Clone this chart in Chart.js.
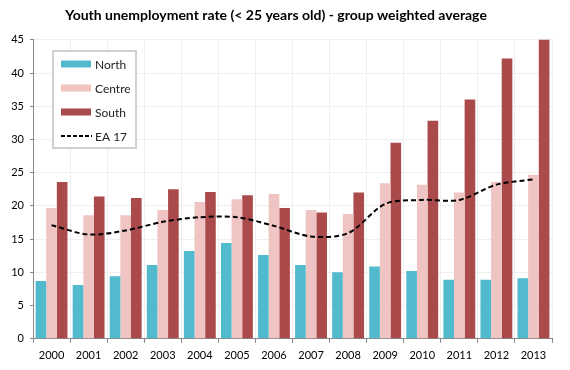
<!DOCTYPE html>
<html>
<head>
<meta charset="utf-8">
<script src="https://cdn.jsdelivr.net/npm/chart.js@4/dist/chart.umd.min.js"></script>
<style>
html,body{margin:0;padding:0;background:#fff;}
#wrap{width:570px;height:370px;position:relative;}
</style>
</head>
<body>
<div id="wrap"><canvas id="c" width="570" height="370"></canvas></div>
<script>
const years = ['2000','2001','2002','2003','2004','2005','2006','2007','2008','2009','2010','2011','2012','2013'];
const north = [8.7, 8.1, 9.4, 11.1, 13.2, 14.4, 12.6, 11.1, 10.0, 10.9, 10.2, 8.9, 8.9, 9.1];
const centre = [19.7, 18.6, 18.6, 19.4, 20.6, 21.0, 21.8, 19.4, 18.8, 23.4, 23.2, 22.0, 23.6, 24.7];
const south = [23.6, 21.4, 21.2, 22.5, 22.1, 21.6, 19.7, 19.0, 22.0, 29.5, 32.8, 36.0, 42.2, 45.3];
const ea17 = [17.1, 15.7, 16.3, 17.6, 18.3, 18.3, 17.0, 15.4, 15.9, 20.3, 20.9, 20.9, 23.2, 24.0];
const yTicks = [0,5,10,15,20,25,30,35,40,45];
const titleText = 'Youth unemployment rate (< 25 years old) - group weighted average';

const FONT = 'Lato, "Open Sans", sans-serif';

const legendPlugin = {
  id: 'boxLegend',
  afterDraw(chart) {
    const ctx = chart.ctx;
    const x0 = 53, y0 = 51, w = 83, h = 97;
    ctx.save();
    ctx.fillStyle = '#ffffff';
    ctx.fillRect(x0, y0, w, h);
    ctx.strokeStyle = '#d0d0d0';
    ctx.lineWidth = 2;
    ctx.strokeRect(x0, y0, w, h);
    ctx.font = '12px ' + FONT;
    ctx.textBaseline = 'middle';
    chart.data.datasets.forEach((ds, i) => {
      const cy = 64 + i * 24;
      if (ds.type === 'line') {
        ctx.strokeStyle = ds.borderColor;
        ctx.lineWidth = 2;
        ctx.setLineDash([4, 2]);
        ctx.beginPath();
        ctx.moveTo(61, cy);
        ctx.lineTo(92, cy);
        ctx.stroke();
        ctx.setLineDash([]);
      } else {
        ctx.fillStyle = ds.backgroundColor;
        ctx.fillRect(61, cy - 3.5, 30, 7);
      }
      ctx.fillStyle = '#222';
      ctx.fillText(ds.label, 95, cy + 1);
    });
    ctx.restore();
  }
};

new Chart(document.getElementById('c'), {
  type: 'bar',
  data: {
    labels: years,
    datasets: [
      {label: 'North', data: north, backgroundColor: '#52bacd', order: 2},
      {label: 'Centre', data: centre, backgroundColor: '#efc4c3', order: 2},
      {label: 'South', data: south, backgroundColor: '#ab4a4b', order: 2},
      {label: 'EA 17', type: 'line', data: ea17, borderColor: '#000000', borderWidth: 2,
       borderDash: [5, 3], pointRadius: 0, tension: 0.3, fill: false, order: 1}
    ]
  },
  options: {
    responsive: false,
    animation: false,
    layout: {padding: {top: 4, right: 18, left: 0, bottom: 2}},
    datasets: {bar: {categoryPercentage: 0.86, barPercentage: 1.0}},
    plugins: {
      legend: {display: false},
      tooltip: {enabled: false},
      title: {display: true, text: titleText, color: '#000',
        font: {family: FONT, size: 14, weight: 'bold'}, padding: {top: 3, bottom: 16}}
    },
    scales: {
      x: {
        grid: {color: '#efefef', tickColor: '#888', tickLength: 4, offset: true},
        border: {color: '#888'},
        ticks: {color: '#000', font: {family: FONT, size: 11}, padding: 6, maxRotation: 0}
      },
      y: {
        min: 0, max: 45,
        afterBuildTicks(axis) { axis.ticks = yTicks.map(v => ({value: v})); },
        afterFit(axis) { axis.width = 33; },
        grid: {color: '#efefef', tickColor: '#888', tickLength: 3},
        border: {color: '#888'},
        ticks: {color: '#000', font: {family: FONT, size: 11}, padding: 6}
      }
    }
  },
  plugins: [legendPlugin]
});
</script>
</body>
</html>
